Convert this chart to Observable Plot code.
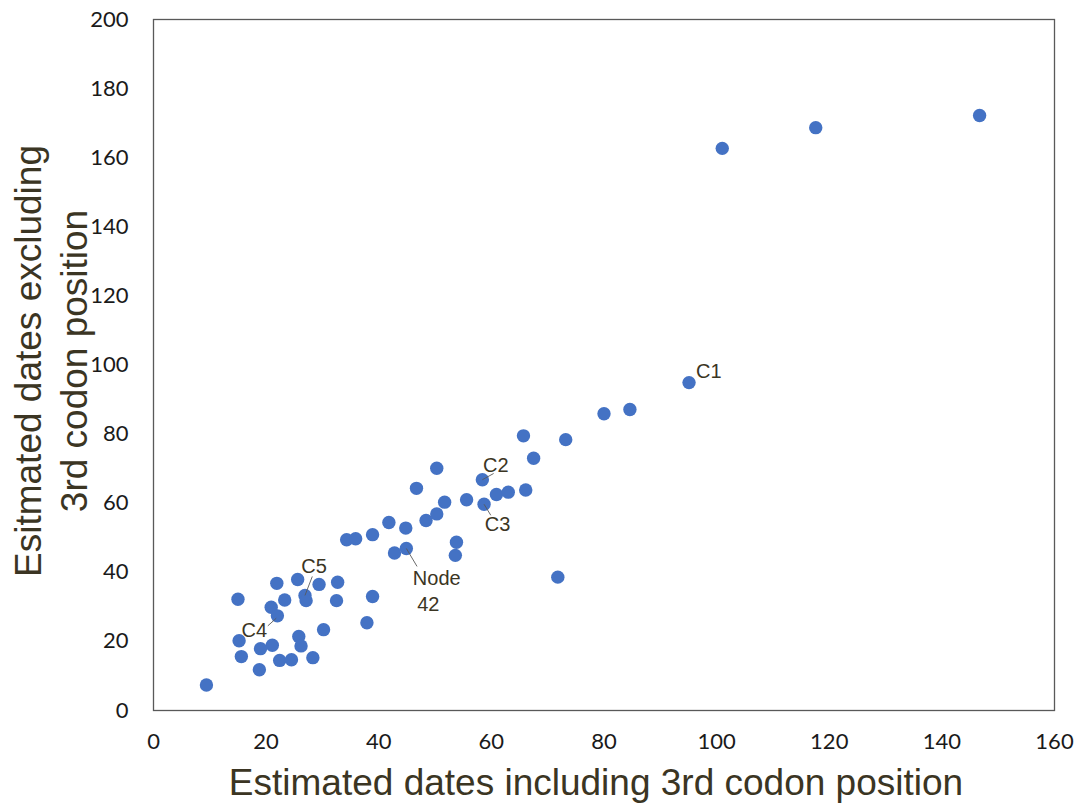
<!DOCTYPE html>
<html>
<head>
<meta charset="utf-8">
<script src="https://cdn.jsdelivr.net/npm/d3@7"></script>
<script src="https://cdn.jsdelivr.net/npm/@observablehq/plot@0.6"></script>
<style>
  html, body { margin: 0; padding: 0; background: #ffffff; }
  #chart svg { display: block; }
</style>
</head>
<body>
<div id="chart"></div>
<script>
// Estimated dates including 3rd codon position (x) vs excluding (y)
const xIncluding = [
  9.4, 15.0, 15.2, 15.6, 18.8, 19.0, 21.1, 20.9, 22.0, 21.9,
  22.4, 23.3, 24.5, 25.6, 25.8, 26.2, 26.9, 27.1, 28.3, 29.4,
  30.2, 32.7, 32.5, 37.9, 38.9, 34.3, 35.9, 38.9, 41.8, 42.8,
  44.8, 44.9, 46.7, 48.4, 50.3, 50.3, 51.7, 53.8, 53.6, 55.6,
  58.4, 58.7, 60.9, 63.0, 66.1, 65.7, 67.5, 71.8, 73.2, 80.0,
  84.6, 95.1, 101.0, 117.6, 146.7
];
const yExcluding = [
  7.4, 32.2, 20.2, 15.6, 11.8, 17.9, 18.9, 29.9, 27.4, 36.8,
  14.5, 32.0, 14.7, 37.9, 21.4, 18.7, 33.3, 31.8, 15.3, 36.5,
  23.4, 37.1, 31.8, 25.4, 33.0, 49.4, 49.7, 50.9, 54.4, 45.6,
  52.8, 46.9, 64.3, 55.0, 56.9, 70.1, 60.3, 48.7, 44.9, 61.0,
  66.8, 59.7, 62.5, 63.2, 63.8, 79.5, 73.0, 38.6, 78.4, 85.9,
  87.1, 94.9, 162.7, 168.7, 172.2
];

// Annotations (label text and its position in data units)
const labelText = ["C1", "C2", "C3", "C4", "C5", "Node", "42"];
const labelX    = [98.6, 60.8, 61.1, 17.9, 28.5, 50.3, 48.8];
const labelY    = [98.0, 70.8, 53.8, 23.2, 41.7, 38.1, 30.7];

// Leader lines: from labelled point to label side (data units)
const leaderX1 = [58.4, 58.7, 21.8, 26.9, 44.9];
const leaderY1 = [66.8, 59.7, 26.7, 33.3, 46.9];
const leaderX2 = [60.4, 59.9, 20.3, 28.2, 46.8];
const leaderY2 = [68.6, 56.5, 24.5, 38.8, 41.7];

const xTicks = [0, 20, 40, 60, 80, 100, 120, 140, 160];
const yTicks = [0, 20, 40, 60, 80, 100, 120, 140, 160, 180, 200];

const xTitle = "Estimated dates including 3rd codon position";
const yTitle = "Esitmated dates excluding\n3rd codon position";

const points = xIncluding.map((x, i) => ({x, y: yExcluding[i]}));
const labels = labelText.map((t, i) => ({t, x: labelX[i], y: labelY[i]}));
const leaders = leaderX1.map((x1, i) => ({x1, y1: leaderY1[i], x2: leaderX2[i], y2: leaderY2[i]}));

const titleColor = "#3b3523";
const titleFont = "'Liberation Sans', Arial, sans-serif";

const chart = Plot.plot({
  width: 1077,
  height: 809,
  marginLeft: 153,
  marginTop: 19,
  marginRight: 23,
  marginBottom: 99,
  x: {domain: [0, 160]},
  y: {domain: [0, 200]},
  style: {fontFamily: "Lato, 'Open Sans', sans-serif", fontSize: "22px", color: "#1a1a1a", background: "#ffffff", overflow: "visible"},
  marks: [
    Plot.frame({stroke: "#595959", strokeWidth: 1.3}),
    Plot.axisX({ticks: xTicks, tickSize: 0, tickPadding: 23, label: null, fontSize: 22}),
    Plot.axisY({ticks: yTicks, tickSize: 0, tickPadding: 25, label: null, fontSize: 22}),
    Plot.dot(points, {x: "x", y: "y", r: 6.7, fill: "#4472C4", stroke: "none"}),
    Plot.link(leaders, {x1: "x1", y1: "y1", x2: "x2", y2: "y2", stroke: "#595959", strokeWidth: 0.9}),
    Plot.text(labels, {x: "x", y: "y", text: "t", fontFamily: titleFont, fontSize: 20, fill: titleColor}),
    Plot.text([xTitle], {text: d => d, frameAnchor: "bottom", textAnchor: "middle", lineAnchor: "middle", dx: -8, dy: 73, fontFamily: titleFont, fontSize: 37, fill: titleColor}),
    Plot.text([yTitle], {text: d => d, frameAnchor: "left", textAnchor: "middle", lineAnchor: "middle", rotate: -90, dx: -104, dy: -4, lineHeight: 1.25, fontFamily: titleFont, fontSize: 37, fill: titleColor})
  ]
});
document.getElementById("chart").appendChild(chart);
</script>
</body>
</html>
